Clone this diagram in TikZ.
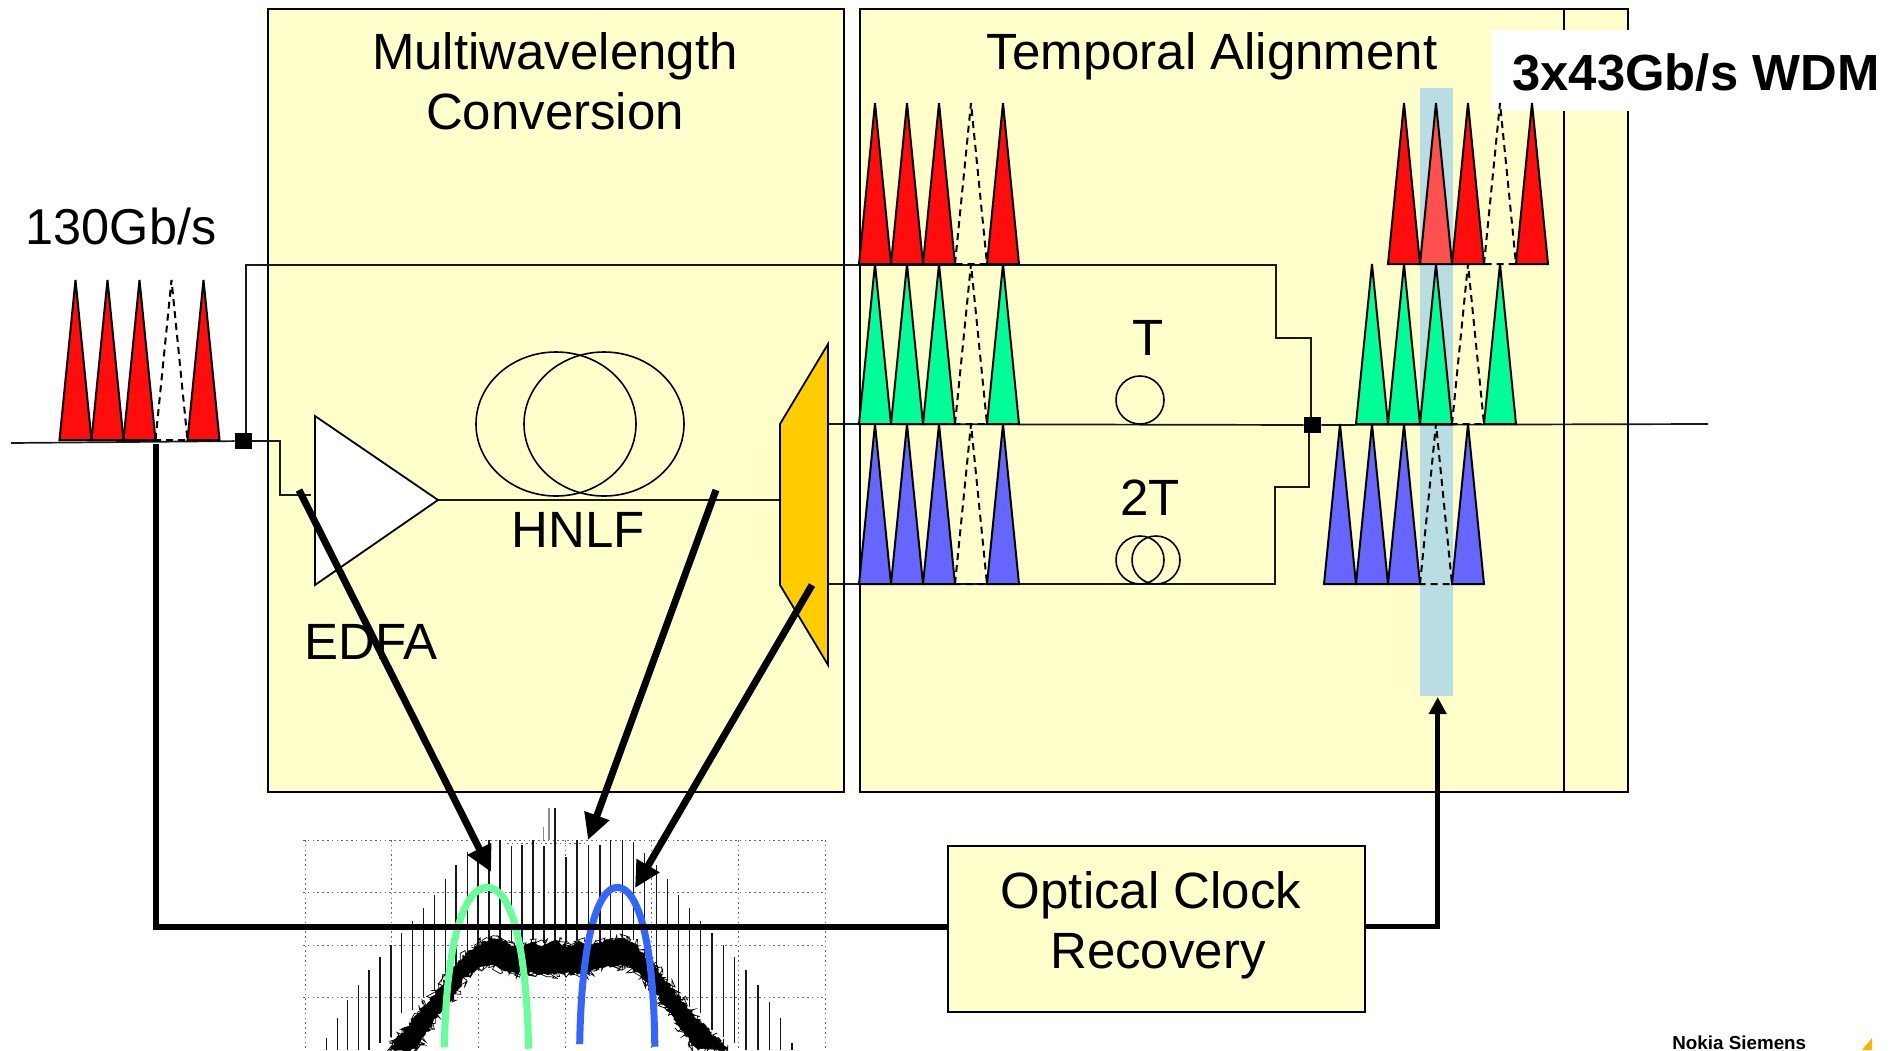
\documentclass[tikz,border=0pt]{standalone}
\usepackage{fontspec}
\setmainfont{Liberation Sans}
\usetikzlibrary{arrows.meta,decorations.pathmorphing}
\definecolor{panelfill}{HTML}{FFFFCC}
\definecolor{barblue}{HTML}{B8DEE3}
\definecolor{pred}{HTML}{FF0D0D}
\definecolor{pmid}{HTML}{FF5050}
\definecolor{pgreen}{HTML}{00FF99}
\definecolor{pblue}{HTML}{6666FF}
\definecolor{demux}{HTML}{FFCC00}
\definecolor{archg}{HTML}{66FF99}
\definecolor{archb}{HTML}{3366FF}
\definecolor{logoy}{HTML}{FFB400}
\tikzset{
  panel/.style={draw=black,line width=1pt,fill=panelfill,inner sep=0pt,outer sep=0pt},
  wire/.style={draw=black!90,line width=0.85pt},
  pulse/.style={draw=black,line width=1pt,line join=miter},
  dashpulse/.style={draw=black,line width=1pt,dash pattern=on 3.5pt off 2.5pt},
  junction/.style={fill=black,inner sep=0pt,minimum width=8.5pt,minimum height=8pt},
  fat/.style={draw=black,line width=3pt},
  fatarrow/.style={draw=black,line width=3.5pt,-{Triangle[length=13pt,width=12.5pt]}},
  lab/.style={font=\fontsize{25.5}{30.2}\selectfont,inner sep=0pt,align=center},
  coil/.style={draw=black,line width=0.8pt},
  griddot/.style={draw=black!60,line width=0.5pt,dash pattern=on 0.8pt off 1.6pt},
}
\newcommand{\pulsetri}[4]{\path[pulse,fill=#4] (#1-16,#2)--(#1,#3)--(#1+16,#2)--cycle;}
\newcommand{\pulsedash}[3]{\path[dashpulse] (#1-16,#2)--(#1,#3)--(#1+16,#2)--cycle;}
\newcommand{\pulserow}[4]{%
  \pulsetri{#1}{#2}{#3}{#4}\pulsetri{#1+32}{#2}{#3}{#4}\pulsetri{#1+64}{#2}{#3}{#4}\pulsedash{#1+96}{#2}{#3}\pulsetri{#1+128}{#2}{#3}{#4}}
\begin{document}
\begin{tikzpicture}[x=0.5pt,y=-0.5pt]
\useasboundingbox (0,0) rectangle (1896,1050);
\fill[white] (0,0) rectangle (1896,1050);

% panels
\node[panel,anchor=north west,minimum width=288pt,minimum height=391.5pt] (convpanel) at (268,9) {};
\node[panel,anchor=north west,minimum width=384pt,minimum height=391.5pt] (alignpanel) at (860,9) {};
\coordinate (divtop) at (1564,9);
\coordinate (divbot) at (1564,792);
\draw[black,line width=1pt] (divtop) -- (divbot);

% white label background + bar
\fill[white] (1492,30) rectangle (1896,111);
\node[fill=barblue,anchor=north west,inner sep=0pt,minimum width=16.5pt,minimum height=304pt] (bar) at (1420,88) {};

% spectrum
\begin{scope}
\clip (290,800) rectangle (840,1050);
\foreach \gx in {305,391,478,565,651,738,825}
  \draw[griddot] (\gx,840) -- (\gx,1050);
\foreach \gy in {840,892,945,997}
  \draw[griddot] (303,\gy) -- (825,\gy);
\draw[griddot] (507,843) -- (585,843);
\end{scope}
\begin{scope}[shift={(280,780)},x=0.185pt,y=-0.1667pt]
\clip (0,0) rectangle (1568,810);
\foreach \sx/\sy/\sb in {125/775/810,155/715/810,183/660/810,212/615/810,241/570/810,270/530/790,300/495/770,329/460/700,358/423/690,388/385/650,417/345/630,447/298/600,476/255/560,506/215/530,535/180/500,565/180/480,595/180/480,625/198/490,654/195/500,684/180/480,714/198/490,743/85/480,773/230/490,803/180/480,833/195/490,865/195/490,894/180/480,925/180/470,955/187/480,985/220/530,1017/255/560,1047/298/600,1077/345/640,1107/385/680,1137/423/700,1168/460/750,1198/495/770,1229/530/790,1259/570/810,1292/615/810,1323/665/810,1353/715/810,1384/790/810}
  \draw[black!90,line width=0.7pt] (\sx,\sy) -- (\sx,\sb);
\draw[black!45,line width=0.6pt] (727,85) -- (727,180) (713,140) -- (713,180);
\pgfmathsetseed{42}
\fill[black,decorate,decoration={random steps,segment length=1.2pt,amplitude=0.9pt}]
  (292,810) -- (360,715) -- (430,625) -- (470,560) -- (510,512) -- (570,472) -- (610,482) -- (650,512) -- (680,480) -- (710,498) -- (745,480) -- (775,502) -- (805,480) -- (840,492) -- (890,480) -- (925,472) -- (960,492) -- (1010,552) -- (1060,625) -- (1120,705) -- (1210,810) -- (1130,810) -- (1070,725) -- (1020,645) -- (980,592) -- (930,555) -- (880,560) -- (830,580) -- (770,580) -- (710,580) -- (660,580) -- (620,580) -- (580,555) -- (540,560) -- (500,590) -- (470,652) -- (420,715) -- (370,810) -- cycle;
\draw[black,line width=0.35pt,decorate,decoration={random steps,segment length=0.8pt,amplitude=2.6pt}]
  (292,810) -- (360,715) -- (430,625) -- (470,560) -- (510,512) -- (570,472) -- (610,482) -- (650,512) -- (680,480) -- (710,498) -- (745,480) -- (775,502) -- (805,480) -- (840,492) -- (890,480) -- (925,472) -- (960,492) -- (1010,552) -- (1060,625) -- (1120,705) -- (1210,810) -- (1130,810) -- (1070,725) -- (1020,645) -- (980,592) -- (930,555) -- (880,560) -- (830,580) -- (770,580) -- (710,580) -- (660,580) -- (620,580) -- (580,555) -- (540,560) -- (500,590) -- (470,652) -- (420,715) -- (370,810);
\draw[archg,line width=3.5pt] (444,802) .. controls (450,470) and (500,322) .. (560,322) .. controls (620,322) and (665,470) .. (672,806);
\draw[archb,line width=3.5pt] (810,792) .. controls (815,470) and (860,322) .. (912,322) .. controls (965,322) and (1010,470) .. (1013,800);
\end{scope}

% wires
\node[junction] (insq) at (243.5,441) {};
\node[junction] (outsq) at (1312.5,425) {};
\coordinate (instart) at (11,443);
\coordinate (ampin) at (311,495);
\coordinate (lineout) at (1708,424);

% amplifier, coils, demux
\coordinate (ampA) at (315,416);
\coordinate (ampB) at (438,500);
\coordinate (ampC) at (315,585);
\coordinate (dmA) at (828,344);
\coordinate (dmB) at (780,424);
\coordinate (dmC) at (780,585);
\coordinate (dmD) at (828,665);

\draw[wire] (instart) -- (insq);
\draw[wire] (insq) -- (280,441) -- (280,495) -- (ampin);
\draw[wire] (246,433) -- (246,265) -- (1276,265) -- (1276,338) -- (1311,338) -- (1311,417);
\draw[wire] (828,424) -- (outsq) -- (lineout);
\draw[wire] (828,584) -- (1275,584) -- (1275,487) -- (1309,487) -- (1309,433);
\draw[wire] (ampB) -- (780,500);

\path[draw=black,line width=0.9pt,fill=white] (ampA) -- (ampB) -- (ampC) -- cycle;
\path[draw=black,line width=0.9pt,fill=demux] (dmA) -- (dmB) -- (dmC) -- (dmD) -- cycle;

\draw[coil] (556,424) ellipse (80 and 72);
\draw[coil] (604,424) ellipse (80 and 72);
\draw[coil] (1140,400) circle (24);
\draw[coil] (1140,560) circle (24);
\draw[coil] (1156,560) circle (24);

% pulses
\pulserow{75.5}{440}{280}{pred}
\pulserow{875}{264}{103}{pred}
\pulserow{875}{424}{264}{pgreen}
\pulserow{875}{584}{424}{pblue}
\pulsetri{1404}{264}{103}{pred}\pulsetri{1436}{264}{103}{pmid}\pulsetri{1468}{264}{103}{pred}\pulsedash{1500}{264}{103}\pulsetri{1532}{264}{103}{pred}
\pulserow{1372}{424}{264}{pgreen}
\pulserow{1340}{584}{424}{pblue}

% labels
\node[lab] (tconv) at (555,81) {Multiwavelength\\Conversion};
\node[lab] (talign) at (1212,56) {Temporal Alignment};
\node[lab,font=\fontsize{25.2}{30}\selectfont] (tin) at (121,226) {130Gb/s};
\node[lab] (thnlf) at (578,530) {HNLF};
\node[lab] (tedfa) at (371,642) {EDFA};
\node[lab] (tt) at (1148,338) {T};
\node[lab] (t2t) at (1150,498) {2T};
\node[lab,font=\fontsize{25.4}{30}\selectfont\bfseries,anchor=west] (twdm) at (1512,73) {3x43Gb/s WDM};

% clock recovery
\node[draw=black,line width=1pt,fill=panelfill,anchor=north west,minimum width=208.5pt,minimum height=83pt,inner sep=0pt,outer sep=0pt] (ocr) at (948,846) {};
\node[lab] (tocr) at (1151,925.5) {Optical Clock\\\hspace*{7pt}Recovery};

% thick lines
\coordinate (tapfoot) at (156,926.5);
\draw[fat,line cap=butt] (156,444) -- (tapfoot) -- (ocr.west |- tapfoot);
\draw[draw=black,line width=2.6pt,-{Triangle[length=8.5pt,width=8.5pt]}] (ocr.east |- tapfoot) -- (1437.7,926.5) -- (1437.7,697);
\coordinate (specA) at (491,872);
\coordinate (specB) at (588,840);
\coordinate (specC) at (635,888);
\draw[fatarrow] (299,490) -- (specA);
\draw[fatarrow] (716,490) -- (specB);
\draw[fatarrow] (812,585) -- (specC);

% logo
\node[anchor=base west,inner sep=0pt,font=\fontsize{9.4}{11}\selectfont\bfseries] (logo) at (1672,1049.5) {Nokia Siemens};
\fill[logoy] (1862,1050) -- (1872,1038) -- (1872,1050) -- cycle;
\end{tikzpicture}
\end{document}
